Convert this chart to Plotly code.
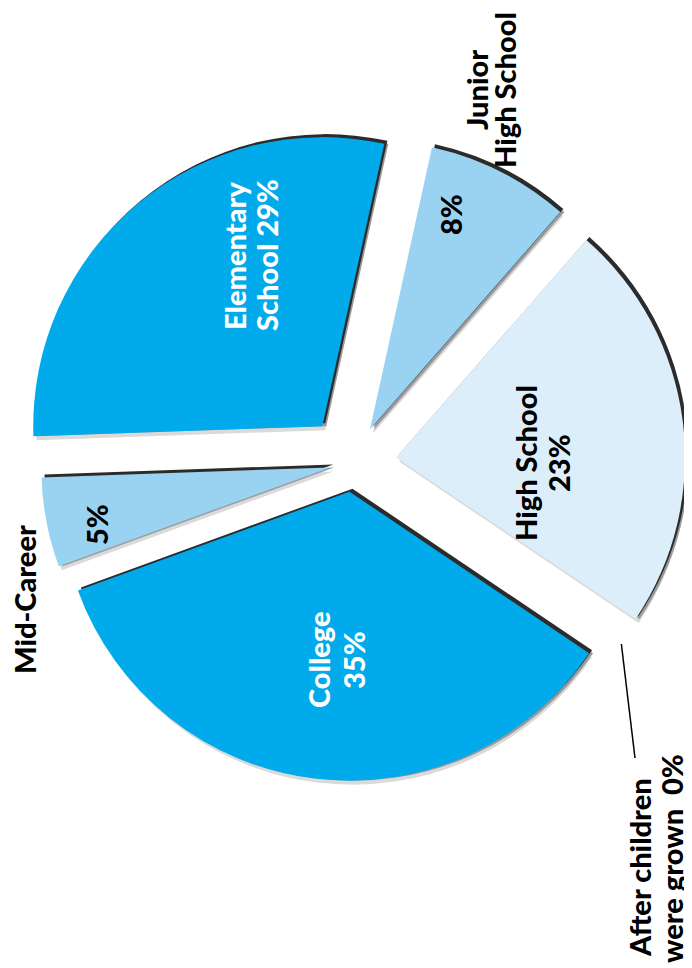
import math
import plotly.graph_objects as go

# ---- data ----
labels = ["Elementary School", "Junior High School", "High School",
          "After children were grown", "College", "Mid-Career"]
values = [29, 8, 23, 0, 35, 5]

# ---- style ----
colors = ["#00AAEB", "#9AD3F2", "#DDEEFB", "#FFFFFF", "#00AAEB", "#9AD3F2"]
pulls = [0.166, 0.13, 0.15, 0.0, 0.10, 0.08]

W, H = 692, 968
CX, CY = 345, 455        # pie centre (px)
HALF = 337               # half size of pie box (px)
ROT = 268
FONT = "Lato"
XSHIFT = -8              # visual correction for rotated text boxes


def dom(dx=0, dy=0):
    return dict(x=[(CX - HALF + dx) / W, (CX + HALF + dx) / W],
                y=[1 - (CY + HALF + dy) / H, 1 - (CY - HALF + dy) / H])


def pie(cols, d):
    return go.Pie(labels=labels, values=values, sort=False, direction="clockwise",
                  rotation=ROT, pull=pulls, marker=dict(colors=cols, line=dict(width=0)),
                  textinfo="none", hoverinfo="skip", domain=d, showlegend=False)


fig = go.Figure()
# rim / shadow layers
for col, dx, dy in [("#dadada", 3, 4), ("#9a9a9a", 4, 0), ("#2b2b2b", 3, -3)]:
    fig.add_trace(pie([col] * len(values), dom(dx, dy)))
fig.add_trace(pie(colors, dom()))


def px(x, y):
    return x / W, 1 - y / H


ann = []


def label(text, x, y, color="black", size=29):
    fx, fy = px(x + XSHIFT, y)
    ann.append(dict(text=text, x=fx, y=fy, xref="paper", yref="paper",
                    showarrow=False, textangle=-90, xanchor="center", yanchor="middle",
                    font=dict(family=FONT, size=size, color=color, weight=900)))


label("Elementary", 234, 247, "white")
label("School 29%", 266, 247, "white")
label("8%", 451, 207)
label("High School", 525, 455)
label("23%", 558, 455)
label("College", 318, 652, "white")
label("35%", 353, 652, "white")
label("5%", 96, 517)
label("Mid-Career", 24, 592)
label("Junior", 476, 82)
label("High School", 504, 82)
label("After children", 639, 860)
label("were grown\u00a0\u00a00%", 671, 851)

# leader line for the 0% slice, along its angle
r_px = HALF / (1 + max(pulls))
frac = sum(values[:3]) / sum(values)
a = math.radians(ROT + frac * 360)
t0 = 1.12 * r_px
x0, y0 = CX + t0 * math.sin(a), CY - t0 * math.cos(a)
x1, y1 = 627, 750
fx0, fy0 = px(x0, y0)
fx1, fy1 = px(x1, y1)

fig.update_layout(
    width=W, height=H, margin=dict(l=0, r=0, t=0, b=0),
    paper_bgcolor="white", plot_bgcolor="white", showlegend=False,
    annotations=ann,
    shapes=[dict(type="line", xref="paper", yref="paper", x0=fx0, y0=fy0, x1=fx1, y1=fy1,
                 line=dict(color="black", width=1.5))],
)

fig.write_html("out.html")
